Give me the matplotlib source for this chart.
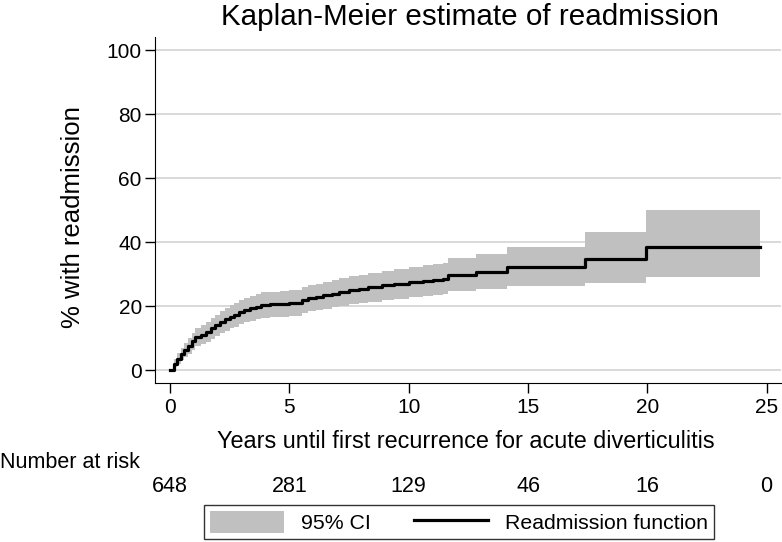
import matplotlib
matplotlib.use("Agg")
import matplotlib.pyplot as plt
import matplotlib.transforms as mtransforms
from matplotlib import font_manager
from matplotlib.patches import Patch
from matplotlib.lines import Line2D

installed = {f.name for f in font_manager.fontManager.ttflist}
if 'Liberation Sans Narrow' in installed:
    main_font = 'Liberation Sans Narrow'
    scale = 1.2
else:
    main_font = 'Liberation Sans'
    scale = 1.0
plt.rcParams['font.family'] = [main_font, 'DejaVu Sans']

# step times (years) and cumulative readmission (%)
times = [0, 0.15, 0.3, 0.45, 0.6, 0.75, 0.9, 1.05, 1.3, 1.5, 1.7, 1.9, 2.1, 2.3, 2.5,
         2.7, 2.9, 3.1, 3.35, 3.6, 3.8, 4.2, 4.6, 5.0, 5.3, 5.55, 5.8, 6.1, 6.4, 6.8,
         7.1, 7.5, 7.9, 8.3, 8.9, 9.4, 10.0, 10.6, 11.0, 11.45, 11.65, 12.8, 14.14,
         17.4, 19.94, 24.7]
readmit = [0, 2.0, 3.5, 5.0, 6.3, 7.6, 9.0, 10.3, 11.0, 11.8, 13.0, 14.0, 15.0, 15.8, 16.6,
           17.3, 18.1, 18.7, 19.3, 19.8, 20.3, 20.5, 20.7, 20.9, 21.0, 21.9, 22.4, 22.8, 23.3, 23.8,
           24.4, 24.9, 25.4, 25.9, 26.5, 27.0, 27.5, 27.9, 28.2, 28.6, 29.7, 30.7, 32.1,
           34.6, 38.3, 38.3]
ci_low = [0, 0.8, 1.8, 3.0, 4.0, 5.1, 6.3, 7.4, 8.0, 8.7, 9.8, 10.7, 11.6, 12.3, 13.0,
          13.6, 14.3, 14.9, 15.4, 15.9, 16.3, 16.5, 16.7, 16.9, 17.0, 17.8, 18.3, 18.7, 19.1, 19.6,
          20.1, 20.5, 21.0, 21.4, 21.9, 22.3, 22.7, 23.1, 23.3, 23.7, 24.6, 25.4, 26.2,
          27.3, 29.0, 29.0]
ci_high = [0, 3.3, 5.2, 7.0, 8.6, 10.1, 11.7, 13.2, 14.0, 14.9, 16.2, 17.3, 18.4, 19.3, 20.2,
           21.0, 21.9, 22.5, 23.2, 23.7, 24.3, 24.5, 24.7, 24.9, 25.0, 26.0, 26.5, 26.9, 27.5, 28.0,
           28.7, 29.3, 29.8, 30.4, 31.1, 31.7, 32.3, 32.7, 33.1, 33.6, 34.9, 36.2, 38.3,
           43.2, 50.0, 50.0]

risk_years = [0, 5, 10, 15, 20, 25]
at_risk = [648, 281, 129, 46, 16, 0]

fig = plt.figure(figsize=(7.82, 5.42), dpi=100)
ax = fig.add_axes([155 / 782, 159 / 542, 626 / 782, 346 / 542])

ax.fill_between(times, ci_low, ci_high, step='post', color='#c0c0c0', linewidth=0, zorder=2)
ax.step(times, readmit, where='post', color='black', linewidth=2.3, zorder=3)

ax.set_xlim(-0.63, 25.6)
ax.set_ylim(-4.06, 104.1)
ax.set_xticks([0, 5, 10, 15, 20, 25])
ax.set_yticks([0, 20, 40, 60, 80, 100])
ax.yaxis.grid(True, color='#cfcfcf', linewidth=1.1, zorder=1)
ax.set_axisbelow(True)
for s in ['top', 'right']:
    ax.spines[s].set_visible(False)
ax.tick_params(direction='out', length=7, width=1, labelsize=15 * scale)
ax.tick_params(axis='x', pad=4)
ax.tick_params(axis='y', pad=2.5)

fig.text(466 / 782, 1 - 441 / 542, 'Years until first recurrence for acute diverticulitis',
         fontsize=16.8 * scale, ha='center', va='center')
fig.text(73 / 782, 1 - 217 / 542, '% with readmission', fontsize=18.5, rotation=90,
         ha='center', va='center', family=['Liberation Sans', 'DejaVu Sans'])
fig.text(470 / 782, 1 - 17 / 542, 'Kaplan-Meier estimate of readmission',
         fontsize=21.3 * scale, ha='center', va='center')

# number at risk table
fig.text(0.0, 1 - 462 / 542, 'Number at risk', fontsize=15.5 * scale, ha='left', va='center')
risk_tr = mtransforms.blended_transform_factory(ax.transData, fig.transFigure)
for yr, n in zip(risk_years, at_risk):
    ax.text(yr, 1 - 487 / 542, str(n), transform=risk_tr, fontsize=15.5 * scale,
            ha='center', va='center', clip_on=False)

handles = [Patch(facecolor='#c0c0c0', edgecolor='none'),
           Line2D([0], [0], color='black', linewidth=2.3)]
leg = fig.legend(handles, ['95% CI', 'Readmission function'], loc='center',
                 bbox_to_anchor=(459 / 782, 1 - 522 / 542), ncol=2, fontsize=15.3 * scale,
                 frameon=True, fancybox=False, edgecolor='black', handlelength=3.5,
                 handleheight=1.2, columnspacing=2.0, borderpad=0.3)
leg.get_frame().set_linewidth(1.0)

fig.savefig('out.png', dpi=100)
